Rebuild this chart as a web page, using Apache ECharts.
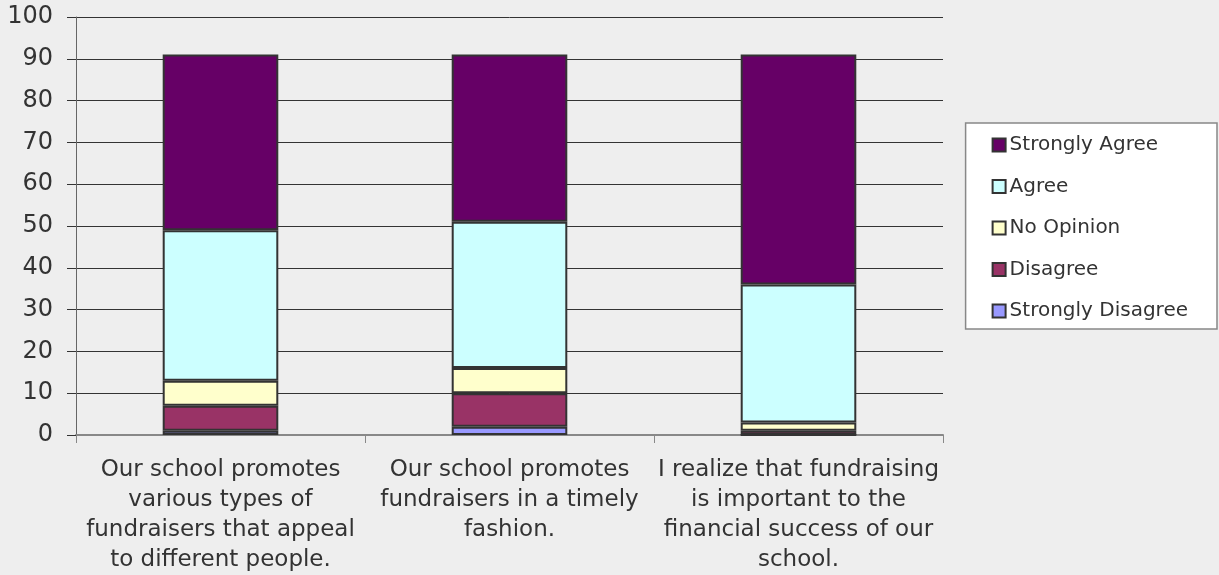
<!DOCTYPE html>
<html><head><meta charset="utf-8">
<script src="https://cdn.jsdelivr.net/npm/echarts@6/dist/echarts.min.js"></script>
<style>html,body{margin:0;padding:0;background:#eeeeee}#c{width:1219px;height:575px}</style>
</head><body><div id="c"></div>
<script>
const categories = ["Our school promotes\nvarious types of\nfundraisers that appeal\nto different people.", "Our school promotes\nfundraisers in a timely\nfashion.", "I realize that fundraising\nis important to the\nfinancial success of our\nschool."];
const seriesNames = ["Strongly Disagree", "Disagree", "No Opinion", "Agree", "Strongly Agree"];
const stronglyDisagree = [1, 2, 0];
const disagree = [6, 8, 1];
const noOpinion = [6, 6, 2];
const agree = [36, 35, 33];
const stronglyAgree = [42, 40, 55];
const yTicks = [0, 10, 20, 30, 40, 50, 60, 70, 80, 90, 100];
const colors = ["#9999ff", "#993366", "#ffffcc", "#ccffff", "#660066"];
const values = [stronglyDisagree, disagree, noOpinion, agree, stronglyAgree];

const chart = echarts.init(document.getElementById('c'));
const font = "'DejaVu Sans', Verdana, sans-serif";
chart.setOption({
  backgroundColor: '#eeeeee',
  animation: false,
  grid: {left: 76, right: 276, top: 17, bottom: 140, containLabel: false},
  legend: {
    orient: 'vertical', right: 2, top: 123,
    data: seriesNames.slice().reverse(),
    itemWidth: 13, itemHeight: 13, itemGap: 21.5,
    padding: [12, 29, 8, 26],
    borderColor: '#888', borderWidth: 1.5, backgroundColor: '#ffffff',
    textStyle: {fontFamily: font, fontSize: 20, lineHeight: 20, color: '#333', padding: [0,0,0,-1]},
    icon: 'rect'
  },
  xAxis: {
    type: 'category', data: categories,
    axisLine: {lineStyle: {color: '#888', width: 2}},
    axisTick: {show: true, alignWithLabel: false, length: 8, lineStyle: {color: '#888'}},
    axisLabel: {fontFamily: font, fontSize: 23, color: '#333', lineHeight: 30, margin: 20, interval: 0}
  },
  yAxis: {
    type: 'value', min: 0, max: 100, interval: 10,
    axisLine: {show: true, lineStyle: {color: '#666', width: 1}},
    axisTick: {show: true, length: 9, inside: false, lineStyle: {color: '#333'}},
    splitLine: {show: true, lineStyle: {color: '#333', width: 1}},
    axisLabel: {fontFamily: font, fontSize: 24, color: '#333', margin: 23,
      formatter: v => yTicks.includes(v) ? String(v) : ''}
  },
  series: seriesNames.map((n, i) => ({
    name: n, type: 'bar', stack: 'all', barWidth: '40%',
    data: values[i],
    itemStyle: {color: colors[i], borderColor: '#333', borderWidth: 2}
  }))
});
</script></body></html>
